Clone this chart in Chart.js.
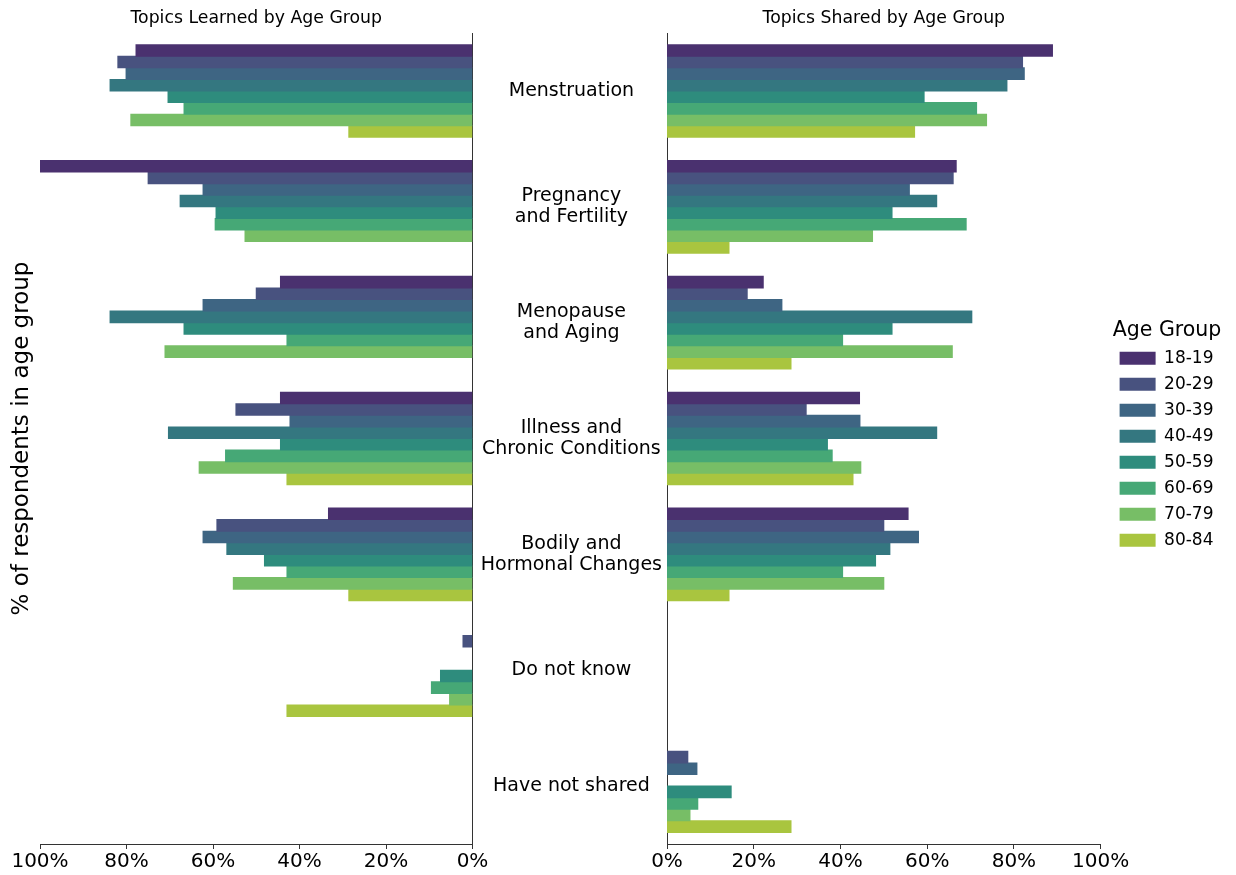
<!DOCTYPE html>
<html>
<head>
<meta charset="utf-8">
<script src="https://cdn.jsdelivr.net/npm/chart.js@4.4.1/dist/chart.umd.min.js"></script>
<style>
  html, body { margin: 0; padding: 0; background: #ffffff; }
  body { width: 1236px; height: 875px; position: relative; overflow: hidden; }
  canvas { position: absolute; top: 0; }
  #left { left: 0; }
  #right { left: 472px; }
</style>
</head>
<body>
<canvas id="left" width="500" height="875"></canvas>
<canvas id="right" width="764" height="875"></canvas>
<script>
// ---- data ----
const categories = [
  "Menstruation",
  ["Pregnancy", "and Fertility"],
  ["Menopause", "and Aging"],
  ["Illness and", "Chronic Conditions"],
  ["Bodily and", "Hormonal Changes"],
  "Do not know",
  "Have not shared"
];
const ageGroups = ["18-19", "20-29", "30-39", "40-49", "50-59", "60-69", "70-79", "80-84"];
const ageColors = ["#4a316f", "#48527f", "#3e6583", "#347780", "#2e8c7d", "#46a876", "#77be66", "#a9c53f"];
const xTicks = [0, 20, 40, 60, 80, 100];

// Topics learned (%), one array per age group, in category order
const learned1819 = [77.8, 100.0, 44.4, 44.4, 33.3, 0, 0];
const learned2029 = [82.0, 75.0, 50.0, 54.7, 59.1, 2.2, 0];
const learned3039 = [80.1, 62.3, 62.3, 42.2, 62.3, 0, 0];
const learned4049 = [83.8, 67.6, 83.8, 70.3, 56.8, 0, 0];
const learned5059 = [70.4, 59.3, 66.7, 44.4, 48.1, 7.4, 0];
const learned6069 = [66.7, 59.5, 42.9, 57.1, 42.9, 9.5, 0];
const learned7079 = [79.0, 52.6, 71.1, 63.2, 55.3, 5.3, 0];
const learned8084 = [28.6, 0, 0, 42.9, 28.6, 42.9, 0];

// Topics shared (%)
const shared1819 = [88.9, 66.7, 22.2, 44.4, 55.6, 0, 0];
const shared2029 = [82.0, 66.0, 18.5, 32.1, 50.0, 0, 4.8];
const shared3039 = [82.4, 55.9, 26.5, 44.5, 58.0, 0, 6.9];
const shared4049 = [78.4, 62.2, 70.3, 62.2, 51.4, 0, 0];
const shared5059 = [59.3, 51.9, 51.9, 37.0, 48.1, 0, 14.8];
const shared6069 = [71.4, 69.0, 40.5, 38.1, 40.5, 0, 7.1];
const shared7079 = [73.7, 47.4, 65.8, 44.7, 50.0, 0, 5.3];
const shared8084 = [57.1, 14.3, 28.6, 42.9, 14.3, 0, 28.6];

const learnedSeries = [learned1819, learned2029, learned3039, learned4049, learned5059, learned6069, learned7079, learned8084];
const sharedSeries = [shared1819, shared2029, shared3039, shared4049, shared5059, shared6069, shared7079, shared8084];

// ---- shared styling ----
const FONT = "'DejaVu Sans', 'Liberation Sans', sans-serif";
const AXIS = "#333333";

function makeDatasets(series) {
  return series.map((vals, i) => ({
    label: ageGroups[i],
    data: vals,
    backgroundColor: ageColors[i],
    borderWidth: 0,
    inflateAmount: (ctx) => (ctx.raw ? 0.5 : 0),
    categoryPercentage: 0.8,
    barPercentage: 1.0
  }));
}

function xScale(reverse) {
  return {
    type: "linear",
    position: "bottom",
    min: 0,
    max: 100,
    reverse: reverse,
    afterBuildTicks: (s) => { s.ticks = xTicks.map(v => ({ value: v })); },
    ticks: {
      callback: (v) => v + "%",
      font: { family: FONT, size: 20, lineHeight: 1.1 },
      color: "#000000",
      padding: 2,
      maxRotation: 0
    },
    grid: { display: true, drawOnChartArea: false, drawTicks: true, tickLength: 5, tickColor: AXIS, tickWidth: 1 },
    border: { display: true, color: AXIS, width: 1 }
  };
}

function titleOpts(text) {
  return {
    display: true,
    text: text,
    fullSize: false,
    color: "#000000",
    font: { family: FONT, size: 17.3, weight: "normal", lineHeight: 1.2 },
    padding: { top: 5, bottom: 4.3 }
  };
}

// ---- left chart: topics learned ----
new Chart(document.getElementById("left"), {
  type: "bar",
  data: { labels: categories, datasets: makeDatasets(learnedSeries) },
  options: {
    indexAxis: "y",
    responsive: false,
    animation: false,
    layout: { padding: { top: 3, right: 27.5, bottom: 0, left: 0 } },
    plugins: {
      legend: { display: false },
      tooltip: { enabled: false },
      title: titleOpts("Topics Learned by Age Group")
    },
    scales: {
      x: xScale(true),
      y: {
        type: "category",
        position: "right",
        ticks: { display: false },
        grid: { display: true, drawOnChartArea: false, drawTicks: false },
        border: { display: true, color: AXIS, width: 1 },
        afterFit: (s) => { s.width = 0; }
      },
      yTitle: {
        type: "category",
        position: "left",
        ticks: { display: false },
        grid: { display: false },
        border: { display: false },
        title: {
          display: true,
          text: "% of respondents in age group",
          color: "#000000",
          font: { family: FONT, size: 23, lineHeight: 1.2 },
          padding: { top: 8, bottom: 0 }
        },
        afterFit: (s) => { s.width = 40; }
      }
    }
  }
});

// ---- right chart: topics shared ----
new Chart(document.getElementById("right"), {
  type: "bar",
  data: { labels: categories, datasets: makeDatasets(sharedSeries) },
  options: {
    indexAxis: "y",
    responsive: false,
    animation: false,
    layout: { padding: { top: 3, right: 12.5, bottom: 0, left: 0 } },
    plugins: {
      tooltip: { enabled: false },
      title: titleOpts("Topics Shared by Age Group"),
      legend: {
        display: true,
        position: "right",
        align: "center",
        title: {
          display: true,
          text: "Age Group",
          color: "#000000",
          font: { family: FONT, size: 20.5, lineHeight: 1.0 },
          padding: { top: 0, bottom: 0 }
        },
        labels: {
          boxWidth: 36,
          boxHeight: 13,
          padding: 9,
          color: "#000000",
          font: { family: FONT, size: 17 }
        }
      }
    },
    scales: {
      x: xScale(false),
      y: {
        type: "category",
        position: "left",
        ticks: {
          crossAlign: "center",
          padding: 5,
          color: "#000000",
          font: { family: FONT, size: 19, lineHeight: 1.1 }
        },
        grid: { display: true, drawOnChartArea: false, drawTicks: false },
        border: { display: true, color: AXIS, width: 1 },
        afterFit: (s) => { s.width = 195; }
      },
      gap: {
        type: "category",
        position: "right",
        ticks: { display: false },
        grid: { display: false },
        border: { display: false },
        afterFit: (s) => { s.width = 10; }
      }
    }
  }
});
</script>
</body>
</html>
